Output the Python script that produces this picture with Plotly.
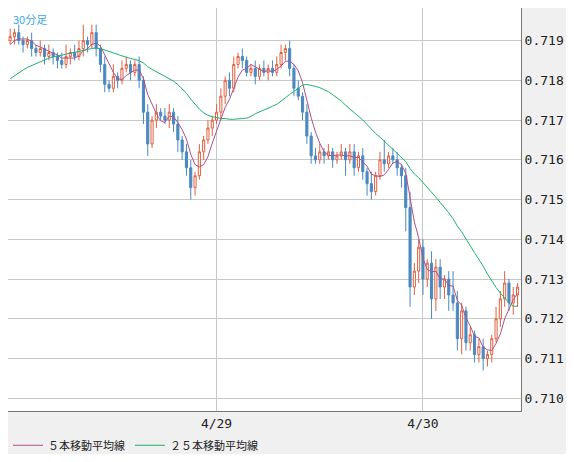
import plotly.graph_objects as go
import pandas as pd

# closes in 1e-4 above 0.7000
prior = [172,173,171,174,175,174,176,177,175,178,179,180,178,181,182,183,182,184,185,186,187,188,189,190]
closes = [191,192,190,189,190,188,187,188,186,187,
          186,185,184,186,187,186,188,190,189,192,
          188,184,179,178,181,180,183,184,182,184,
          180,172,164,170,172,171,170,172,169,165,
          162,158,153,156,162,165,168,170,172,176,
          180,178,184,186,185,182,183,181,183,182,
          183,182,184,187,188,183,178,176,172,166,
          161,160,162,161,162,160,161,162,160,162,
          158,161,157,154,152,156,160,159,161,160,
          158,156,148,128,132,138,130,134,125,133,
          128,130,126,124,115,122,114,116,111,113,
          110,111,115,120,125,129,124,126,128]
upwick = [2,1,2,1,1,2,1,2,1,2, 1,1,2,3,1,2,2,4,1,2, 2,1,2,1,3,1,2,2,1,1,
          2,1,2,1,2,1,2,2,1,2, 1,2,2,1,2,1,2,1,2,2, 1,2,2,1,2,1,1,2,1,2,
          1,2,2,2,1,2,1,2,1,2, 1,2,2,1,2,1,1,2,1,2, 2,1,2,1,3,1,2,5,1,2,
          2,1,2,4,2,2,2,1,3,2, 2,1,2,6,3,2,1,2,1,2, 2,1,1,3,2,3,1,2,1]
lowwick = [1,2,1,2,1,2,1,1,2,1, 2,2,1,1,2,1,1,2,2,1, 2,2,2,1,1,2,1,1,2,1,
           2,3,3,1,2,1,1,2,2,3, 2,2,3,2,1,2,1,2,1,2, 2,2,1,1,2,1,1,2,1,1,
           2,1,1,1,2,2,2,1,2,2, 2,1,1,2,1,2,1,1,4,1, 2,1,2,3,2,1,1,2,1,1,
           2,3,6,5,2,3,4,2,5,3, 3,3,4,2,3,4,2,2,2,2, 3,2,2,1,2,2,2,3,3]
x = list(range(len(closes)))
tickvals = [48, 96]
ticktext = ["4/29", "4/30"]

allc = prior + closes
opens = [allc[len(prior) + i - 1] for i in x]
highs = [max(o, c) + u for o, c, u in zip(opens, closes, upwick)]
lows = [min(o, c) - l for o, c, l in zip(opens, closes, lowwick)]
sc = lambda a: [0.7 + v / 10000 for v in a]
s = pd.Series(sc(allc))
ma5 = s.rolling(5).mean().iloc[len(prior):].tolist()
ma25 = s.rolling(25).mean().iloc[len(prior):].tolist()

fig = go.Figure()
fig.add_trace(go.Candlestick(x=x, open=sc(opens), high=sc(highs), low=sc(lows), close=sc(closes),
    increasing=dict(line=dict(color="#e0603f", width=1), fillcolor="white"),
    decreasing=dict(line=dict(color="#4a89c0", width=1), fillcolor="#4a89c0"),
    whiskerwidth=0, showlegend=False, hoverinfo="skip"))
fig.add_trace(go.Scatter(x=x, y=ma5, mode="lines", line=dict(color="#b0508a", width=1), name="５本移動平均線"))
fig.add_trace(go.Scatter(x=x, y=ma25, mode="lines", line=dict(color="#20b070", width=1), name="２５本移動平均線"))

fig.update_layout(width=558, height=446, margin=dict(l=0, r=45, t=0, b=43, autoexpand=False),
    paper_bgcolor="#f0f0f0", plot_bgcolor="white",
    font=dict(family="DejaVu Sans Mono", size=13, color="#222"),
    legend=dict(orientation="h", x=0.0, y=-0.085, xanchor="left", yanchor="middle",
                font=dict(family="Noto Sans CJK JP", size=11), bgcolor="rgba(0,0,0,0)"),
    showlegend=True,
    xaxis=dict(range=[-0.5, 118.8], tickvals=tickvals, ticktext=ticktext, showgrid=True,
               gridcolor="#c8c8c8", rangeslider=dict(visible=False), showline=True,
               linecolor="#777", mirror=True, ticks="", zeroline=False),
    yaxis=dict(side="right", range=[0.70968, 0.71982], dtick=0.001, tickformat=".3f",
               gridcolor="#c8c8c8", showline=True, linecolor="#777", mirror=True,
               ticks="", zeroline=False))
fig.add_annotation(x=0.005, y=0.998, xref="paper", yref="paper", text="30分足", showarrow=False,
                   xanchor="left", yanchor="top", font=dict(family="Noto Sans CJK JP", size=11, color="#3aa8e8"))
fig.write_html("out.html")
